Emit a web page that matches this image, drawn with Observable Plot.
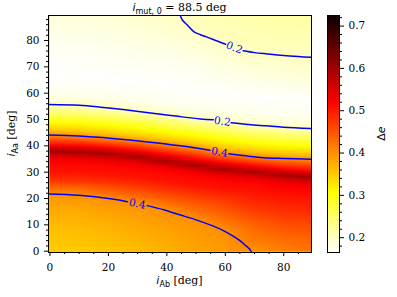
<!DOCTYPE html>
<html>
<head>
<meta charset="utf-8">
<script src="https://cdn.jsdelivr.net/npm/d3@7"></script>
<script src="https://cdn.jsdelivr.net/npm/@observablehq/plot@0.6"></script>
<style>
  html, body { margin: 0; padding: 0; background: white; }
  #wrap { position: relative; width: 397px; height: 297px; overflow: hidden; background: white; }
  #wrap svg { position: absolute; top: 0; }
  #wrap svg text { font-family: "DejaVu Serif", "Liberation Serif", serif; }
  g[aria-label="ridge-halo"] { filter: blur(1px); }
  g[aria-label="ridge-core"] { filter: blur(0.6px); }
</style>
</head>
<body>
<div id="wrap"></div>
<script>
// ---- data ----
const iAbColumns = [0, 10, 20, 30, 40, 50, 60, 70, 80, 90];
const iAaProfiles = [
  [0, 8, 16, 21.7, 24.5, 27, 30, 33, 35.1, 36.9, 37.9, 38.9, 39.7, 40.7, 42.4, 44.1, 46.2, 49.4, 52.2, 55.7, 60, 66, 74, 82, 90],
  [0, 8, 16, 21.2, 24.2, 26.7, 29.7, 32.7, 34.8, 36.6, 37.6, 38.6, 39.4, 40.4, 42.05, 43.7, 45.8, 49.0, 51.9, 55.4, 59.7, 66, 74, 82, 90],
  [0, 7, 14, 19.8, 23, 26.1, 29.1, 32.1, 34.1, 35.9, 36.9, 37.9, 38.7, 39.7, 41.25, 42.8, 44.9, 48.1, 51.3, 54.4, 58.7, 65, 73, 81, 90],
  [0, 6, 12, 18.1, 21.5, 25, 28, 31, 33, 34.8, 35.8, 36.8, 37.6, 38.6, 40.25, 41.9, 43.9, 47.1, 50.1, 53.1, 57.4, 64, 72, 81, 90],
  [0, 5, 10, 15.4, 19.5, 23.4, 26.4, 29.4, 31.4, 33.2, 34.2, 35.2, 36, 37, 38.8, 40.6, 42.6, 45.7, 48.7, 51.7, 56, 63, 72, 81, 90],
  [0, 6, 11.9, 17, 21.8, 24.8, 27.8, 29.8, 31.6, 32.6, 33.6, 34.4, 35.4, 37.25, 39.1, 41.1, 44.3, 47.3, 50.4, 54.7, 61, 70, 78, 83.8, 90],
  [0, 7.4, 14, 20.3, 23.3, 26.3, 28.3, 30.1, 31.1, 32.1, 32.9, 33.9, 35.55, 37.2, 39.4, 42.7, 46, 49.2, 53.5, 60, 70, 78.6, 90],
  [0, 5, 10, 17, 22.3, 25.3, 27.3, 29, 30, 31, 31.8, 32.8, 34.35, 35.9, 38.1, 41.4, 44.7, 47.9, 52.2, 59, 68, 75.4, 90],
  [0, 8, 15, 21, 24.1, 26.1, 27.8, 28.8, 29.8, 30.6, 31.6, 33.4, 35.2, 37.3, 40.6, 43.8, 47.1, 51.4, 58, 67, 74.3, 90],
  [0, 5, 10, 15, 20, 23.3, 25.3, 27, 28, 29, 29.8, 30.8, 32.85, 34.9, 37, 40.3, 43.4, 46.6, 51, 57.5, 66, 73.6, 90]
];
const deltaEProfiles = [
  [0.35, 0.36, 0.378, 0.40, 0.44, 0.48, 0.505, 0.515, 0.532, 0.565, 0.60, 0.565, 0.54, 0.505, 0.455, 0.40, 0.35, 0.30, 0.25, 0.20, 0.175, 0.166, 0.17, 0.177, 0.185],
  [0.352, 0.362, 0.38, 0.40, 0.44, 0.48, 0.505, 0.515, 0.532, 0.565, 0.60, 0.565, 0.54, 0.505, 0.455, 0.40, 0.35, 0.30, 0.25, 0.20, 0.175, 0.166, 0.17, 0.178, 0.186],
  [0.356, 0.367, 0.382, 0.40, 0.44, 0.48, 0.505, 0.515, 0.532, 0.565, 0.60, 0.565, 0.54, 0.505, 0.455, 0.40, 0.35, 0.30, 0.25, 0.20, 0.175, 0.166, 0.171, 0.18, 0.188],
  [0.363, 0.373, 0.385, 0.40, 0.44, 0.48, 0.505, 0.515, 0.532, 0.565, 0.60, 0.565, 0.54, 0.505, 0.455, 0.40, 0.35, 0.30, 0.25, 0.20, 0.175, 0.166, 0.172, 0.183, 0.192],
  [0.372, 0.38, 0.389, 0.40, 0.44, 0.48, 0.505, 0.515, 0.532, 0.565, 0.60, 0.565, 0.54, 0.505, 0.455, 0.40, 0.35, 0.30, 0.25, 0.20, 0.175, 0.166, 0.174, 0.186, 0.197],
  [0.382, 0.391, 0.40, 0.44, 0.48, 0.505, 0.515, 0.532, 0.565, 0.60, 0.565, 0.54, 0.505, 0.455, 0.40, 0.35, 0.30, 0.25, 0.20, 0.175, 0.166, 0.175, 0.188, 0.20, 0.203],
  [0.392, 0.40, 0.44, 0.48, 0.505, 0.515, 0.532, 0.565, 0.60, 0.565, 0.54, 0.505, 0.455, 0.40, 0.35, 0.30, 0.25, 0.20, 0.175, 0.166, 0.182, 0.20, 0.208],
  [0.401, 0.42, 0.44, 0.48, 0.505, 0.515, 0.532, 0.565, 0.60, 0.565, 0.54, 0.505, 0.455, 0.40, 0.35, 0.30, 0.25, 0.20, 0.175, 0.166, 0.184, 0.20, 0.212],
  [0.413, 0.445, 0.48, 0.505, 0.52, 0.535, 0.565, 0.60, 0.565, 0.54, 0.505, 0.455, 0.40, 0.35, 0.30, 0.25, 0.20, 0.175, 0.166, 0.186, 0.20, 0.215],
  [0.425, 0.44, 0.46, 0.485, 0.505, 0.52, 0.535, 0.565, 0.60, 0.565, 0.54, 0.505, 0.455, 0.40, 0.35, 0.30, 0.25, 0.20, 0.175, 0.166, 0.187, 0.20, 0.217]
];
// ridge of maximum Δe (dark band)
const ridgeIAb = [-0.5, 5, 10, 20, 28, 35, 44, 52, 60, 68, 76, 84, 89.5];
const ridgeIAa = [37.9, 37.8, 37.6, 36.9, 36.1, 35.0, 33.6, 32.3, 31.1, 30.2, 29.2, 28.5, 28.0];
const ridgePeak = 0.725;
const ridgeHalo = 0.64;
// contour lines (split where the inline labels sit)
const contourSegments = [
  {level: 0.2, points: [[44.6,89.5],[45.3,87.8],[47,85.9],[49.2,83.4],[51.5,82.2],[54,81.2],[57,79.9],[60.1,78.6]]},
  {level: 0.2, points: [[66.1,76.1],[70,75.4],[74.3,74.9],[80,74.3],[85,73.9],[89.5,73.6]]},
  {level: 0.2, points: [[-0.5,55.7],[10,55.4],[17.4,54.7],[25,53.8],[34.4,52.5],[43,51.3],[51.5,50.2],[55.9,49.9]]},
  {level: 0.2, points: [[62,48.8],[68,48.1],[74,47.6],[80,47.1],[89.5,46.6]]},
  {level: 0.4, points: [[-0.5,44.1],[9.9,43.7],[21.3,42.8],[32.7,41.6],[44.7,40.0],[54.7,38.3]]},
  {level: 0.4, points: [[61.2,37.0],[67,36.2],[73.2,35.5],[80,35.2],[89.5,34.9]]},
  {level: 0.4, points: [[-0.5,21.7],[9.9,21.2],[21.3,19.8],[26.5,18.8]]},
  {level: 0.4, points: [[33.3,17.3],[39,15.7],[44.1,13.9],[50,11.9],[55.5,9.7],[59,8.0],[62.4,5.9],[65,4.0],[66.9,2.2],[68.3,0.8],[69,-0.5]]}
];
const contourLabelText = ["0.2", "0.2", "0.4", "0.4"];
const contourLabelIAb = [63.1, 59.0, 58.0, 29.9];
const contourLabelIAa = [77.3, 49.3, 37.6, 18.0];
const contourLabelAngle = [21, 9, 10, 11];
// ticks
const xTicks = [0, 20, 40, 60, 80];
const xMinorTicks = [5, 10, 15, 25, 30, 35, 45, 50, 55, 65, 70, 75, 85];
const yTicks = [0, 10, 20, 30, 40, 50, 60, 70, 80];
const yMinorTicks = [2,4,6,8,12,14,16,18,22,24,26,28,32,34,36,38,42,44,46,48,52,54,56,58,62,64,66,68,72,74,76,78,82,84,86,88];
const cbTicks = [0.2, 0.3, 0.4, 0.5, 0.6, 0.7];
const cbMinorTicks = [0.18,0.22,0.24,0.26,0.28,0.32,0.34,0.36,0.38,0.42,0.44,0.46,0.48,0.52,0.54,0.56,0.58,0.62,0.64,0.66,0.68,0.72];
const deltaERange = [0.165, 0.725];

// ---- build tables ----
const samples = iAbColumns.flatMap((x, i) => iAaProfiles[i].map((y, j) => ({x, y, v: deltaEProfiles[i][j]})));
const ridge = ridgeIAb.map((x, i) => ({x, y: ridgeIAa[i]}));
const contourPts = contourSegments.flatMap((s, k) => s.points.map(([x, y]) => ({x, y, seg: k})));
const contourLabels = contourLabelText.map((t, i) => ({t, x: contourLabelIAb[i], y: contourLabelIAa[i], a: contourLabelAngle[i]}));

// hot_r colormap stops
const [vmin, vmax] = deltaERange;
const hotStops = [0, 0.253968, 0.634921, 1];
const color = {
  type: "linear",
  domain: hotStops.map(t => vmin + t * (vmax - vmin)),
  range: ["#ffffff", "#ffff00", "#ff0000", "#0b0000"],
  interpolate: "rgb",
  clamp: true
};

const serif = "'DejaVu Serif', 'Liberation Serif', serif";
const main = Plot.plot({
  width: 397, height: 297,
  marginLeft: 48, marginRight: 86, marginTop: 15, marginBottom: 45,
  style: {fontFamily: serif, fontSize: "10.5px", background: "transparent", color: "black"},
  x: {domain: [-0.5, 89.5]},
  y: {domain: [-0.5, 89.5]},
  color,
  marks: [
    Plot.raster(samples, {x: "x", y: "y", fill: "v", interpolate: "barycentric"}),
    Plot.line(ridge, {x: "x", y: "y", stroke: () => ridgeHalo, strokeWidth: 4.5, curve: "catmull-rom", clip: true, ariaLabel: "ridge-halo"}),
    Plot.line(ridge, {x: "x", y: "y", stroke: () => ridgePeak, strokeWidth: 2, curve: "catmull-rom", clip: true, ariaLabel: "ridge-core"}),
    Plot.line(contourPts, {x: "x", y: "y", z: "seg", stroke: "#0000ff", strokeWidth: 1.5, curve: "catmull-rom", clip: true}),
    Plot.text(contourLabels, {x: "x", y: "y", text: "t", rotate: "a", fill: "#0000ff", fontFamily: serif, fontSize: 10.5}),
    Plot.frame({stroke: "black", strokeWidth: 1}),
    Plot.axisX({ticks: xTicks, tickSize: 4, tickPadding: 7, label: null, fontFamily: serif}),
    Plot.axisX({ticks: xMinorTicks, tickSize: 2, tickFormat: () => "", label: null}),
    Plot.axisY({ticks: yTicks, tickSize: 4, tickPadding: 5, label: null, fontFamily: serif}),
    Plot.axisY({ticks: yMinorTicks, tickSize: 2, tickFormat: () => "", label: null})
  ]
});
main.style.left = "0px";

const cbar = Plot.plot({
  width: 77, height: 297,
  marginLeft: 7, marginRight: 58, marginTop: 15, marginBottom: 45,
  style: {fontFamily: serif, fontSize: "10.5px", background: "transparent", color: "black"},
  x: {domain: [0, 1], axis: null},
  y: {domain: deltaERange},
  color,
  marks: [
    Plot.raster({x1: 0, x2: 1, y1: vmin, y2: vmax, fill: (x, y) => y}),
    Plot.frame({stroke: "black"}),
    Plot.axisY({anchor: "right", ticks: cbTicks, tickSize: 4, tickPadding: 5, tickFormat: d3.format(".1f"), label: null, fontFamily: serif}),
    Plot.axisY({anchor: "right", ticks: cbMinorTicks, tickSize: 2, tickFormat: () => "", label: null})
  ]
});
cbar.style.left = "320px";

const wrap = document.getElementById("wrap");
wrap.appendChild(main);
wrap.appendChild(cbar);

// ---- titles and axis labels as real text ----
const sans = "'DejaVu Sans', sans-serif";
const msvg = d3.select(main);
function mathLabel(sel, x, y, sub, rest, rotate) {
  const t = sel.append("text")
    .attr("text-anchor", "middle")
    .attr("fill", "black")
    .attr("font-size", 11)
    .attr("transform", `translate(${x},${y})` + (rotate ? ` rotate(${rotate})` : ""));
  t.append("tspan").style("font-family", sans).attr("font-style", "italic").text("i");
  t.append("tspan").style("font-family", sans).attr("font-size", 8).attr("dy", 2.6).text(sub);
  t.append("tspan").style("font-family", serif).attr("dy", -2.6).text(rest);
  return t;
}
mathLabel(msvg, 179.5, 11, "mut, 0", " = 88.5 deg", 0);
mathLabel(msvg, 179.5, 284, "Ab", " [deg]", 0);
mathLabel(msvg, 15, 133.5, "Aa", " [deg]", -90);

const csvg = d3.select(cbar);
const dl = csvg.append("text")
  .attr("text-anchor", "middle").attr("fill", "black").attr("font-size", 11)
  .style("font-family", sans)
  .attr("transform", "translate(65,133.5) rotate(-90)");
dl.append("tspan").text("Δ");
dl.append("tspan").attr("font-style", "italic").text("e");
</script>
</body>
</html>
